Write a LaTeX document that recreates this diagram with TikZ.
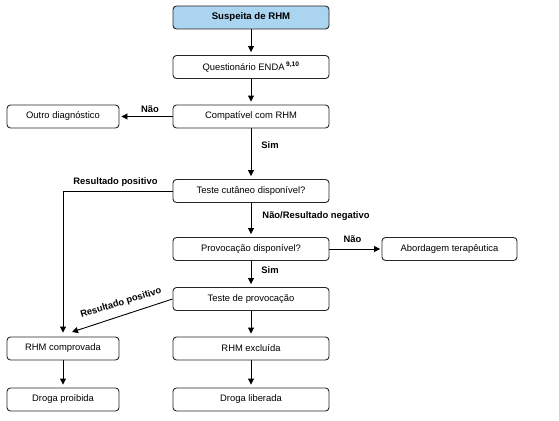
\documentclass[tikz,border=0pt]{standalone}
\usepackage{fontspec}
\setmainfont{Liberation Sans}
\usetikzlibrary{arrows.meta}
\definecolor{topblue}{HTML}{ABD4F1}
\begin{document}
\begin{tikzpicture}[x=1pt,y=-1pt,
  box/.style={draw=black!85,line width=0.9pt,rounded corners=3.5pt,minimum height=23pt,inner sep=0pt,font=\fontsize{9.4}{11}\selectfont},
  wide/.style={box,minimum width=156pt},
  narrow/.style={box,minimum width=112pt},
  arr/.style={draw=black,line width=0.9pt,-{Triangle[length=6pt,width=6pt]}},
  lbl/.style={font=\fontsize{9.4}{11}\selectfont\bfseries,inner sep=0pt}]
\useasboundingbox (0,0) rectangle (559,420);
\node[wide,fill=topblue,font=\fontsize{9.6}{11}\selectfont\bfseries] (s1) at (251,17.5) {Suspeita de RHM};
\node[wide] (s2) at (251,67) {Questionário ENDA\,\textsuperscript{\bfseries 9,10}};
\node[wide] (s3) at (251,116.5) {Compatível com RHM};
\node[narrow] (od) at (63,116.5) {Outro diagnóstico};
\node[wide] (s4) at (251,191) {Teste cutâneo disponível?};
\node[wide] (s5) at (251,249) {Provocação disponível?};
\node[box,minimum width=135pt] (ab) at (449.5,249) {Abordagem terapêutica};
\node[wide] (s6) at (251,299) {Teste de provocação};
\node[narrow] (rc) at (63,348.5) {RHM comprovada};
\node[wide] (re) at (251,348.5) {RHM excluída};
\node[narrow] (dp) at (63,399.5) {Droga proibida};
\node[wide] (dl) at (251,399.5) {Droga liberada};
\coordinate (dg) at (72,332);

\draw[arr,shorten >=3pt] (s1) -- (s2);
\draw[arr,shorten >=3pt] (s2) -- (s3);
\draw[arr,shorten >=2pt] (s3) -- (od);
\draw[arr,shorten >=3pt] (s3) -- (s4);
\draw[arr,shorten >=3pt] (s4) -- (s5);
\draw[arr,shorten >=1.5pt] (s5) -- (ab);
\draw[arr,shorten >=3pt] (s5) -- (s6);
\draw[arr,shorten >=4pt] (s4.west) -| (rc.north);
\draw[arr] (s6.west) -- (dg);
\draw[arr,shorten >=3pt] (s6) -- (re);
\draw[arr,shorten >=3pt] (rc) -- (dp);
\draw[arr,shorten >=3pt] (re) -- (dl);

\node[lbl] (l1) at (150,109) {Não};
\node[lbl] (l2) at (270,145) {Sim};
\node[lbl] (l3) at (115.5,182) {Resultado positivo};
\node[lbl] (l4) at (316,216) {Não/Resultado negativo};
\node[lbl] (l5) at (352.5,239.5) {Não};
\node[lbl] (l6) at (270,270) {Sim};
\node[lbl,rotate=17] (l7) at (121,303) {Resultado positivo};
\end{tikzpicture}
\end{document}
